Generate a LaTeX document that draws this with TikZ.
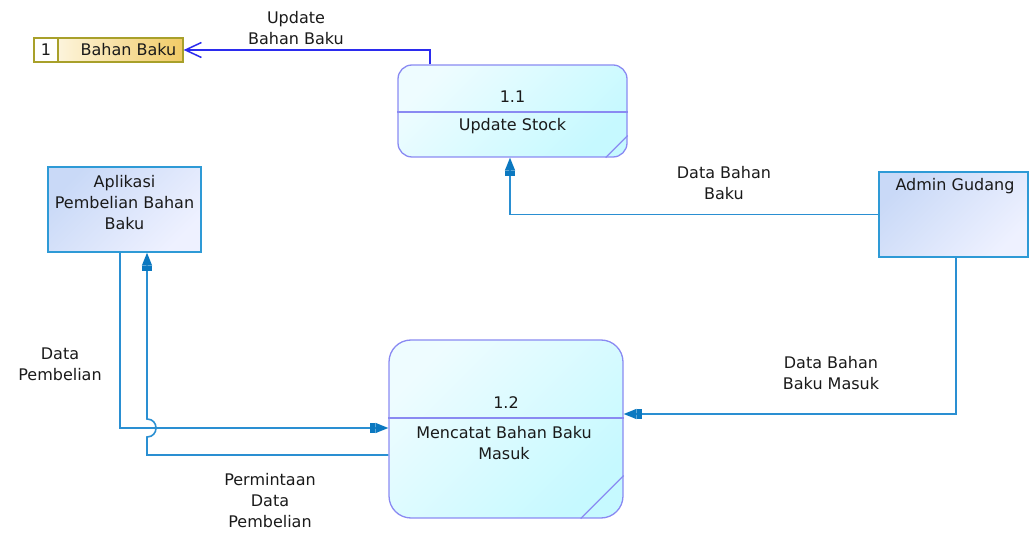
\documentclass[tikz,border=0pt]{standalone}
\usepackage{fontspec}
\setmainfont{DejaVu Sans}
\usetikzlibrary{arrows.meta}
\definecolor{flow}{HTML}{2A8FD2}
\definecolor{flowtip}{HTML}{0B78C0}
\definecolor{ublue}{HTML}{2B2BEE}
\definecolor{procline}{HTML}{8A8AF2}
\definecolor{procA}{HTML}{EEFCFF}
\definecolor{procB}{HTML}{C6F9FF}
\definecolor{entline}{HTML}{2E9AD6}
\definecolor{entA}{HTML}{C9D9F7}
\definecolor{entB}{HTML}{EEF1FF}
\definecolor{storeline}{HTML}{A8A02A}
\definecolor{storeA}{HTML}{FFFCF2}
\definecolor{storeB}{HTML}{F1CB66}
\definecolor{txtcol}{HTML}{1A1A1A}
\begin{document}
\begin{tikzpicture}[x=1pt,y=-1pt,
  font=\fontsize{16}{21}\selectfont,
  txt/.style={inner sep=0pt, align=center, text=txtcol},
  proc/.style={draw=procline, line width=1.3pt, top color=procA, bottom color=procB, shading angle=45, inner sep=0pt},
  divider/.style={draw=procline, line width=1.3pt},
  entity/.style={draw=entline, line width=1.4pt, top color=entA, bottom color=entB, shading angle=45, inner sep=0pt},
  storebox/.style={draw=storeline, line width=1.3pt, left color=storeA, right color=storeB, inner sep=0pt},
  flowline/.style={draw=flow, line width=1.6pt,
     -{Rectangle[length=5pt,width=10pt,sep=0pt,color=flowtip]Triangle[length=13pt,width=10pt,color=flowtip]}},
  updline/.style={draw=ublue, line width=1.6pt, -{Straight Barb[length=16pt,width=15pt,line width=1.5pt]}}
]
\useasboundingbox (0,0) rectangle (1029,534);

% data store
\node[storebox, minimum width=149pt, minimum height=24pt] (store) at (108.5,50) {};
\node[fill=white, draw=storeline, line width=1.3pt, inner sep=0pt, minimum width=24pt, minimum height=24pt, anchor=west] (storenum) at (store.west) {};
\node[txt] (storeid) at (storenum.center) {1};
\node[txt] (storelbl) at (128.5,50) {Bahan Baku};

% process 1.1
\node[proc, rounded corners=14pt, minimum width=229pt, minimum height=92pt] (p11) at (512.5,111) {};
\draw[divider] ([yshift=-1pt]p11.west) -- ([yshift=-1pt]p11.east);
\draw[divider] ([xshift=-22pt]p11.south east) -- ([yshift=22pt]p11.south east);
\node[txt] (p11num) at (512.5,97) {1.1};
\node[txt] (p11name) at (512.5,126) {Update Stock};

% process 1.2
\node[proc, rounded corners=22pt, minimum width=234pt, minimum height=178pt] (p12) at (506,429) {};
\draw[divider] ([yshift=11pt]p12.west) -- ([yshift=11pt]p12.east);
\draw[divider] ([xshift=-43pt]p12.south east) -- ([yshift=43pt]p12.south east);
\node[txt] (p12num) at (506,403) {1.2};
\node[txt] (p12name) at (504,443.5) {Mencatat Bahan Baku\\Masuk};

% entities
\node[entity, minimum width=153pt, minimum height=85pt] (apl) at (124.5,209.5) {};
\node[txt] (apltxt) at (124.5,203) {Aplikasi\\Pembelian Bahan\\Baku};
\node[entity, minimum width=149pt, minimum height=85pt] (adm) at (953.5,214.5) {};
\node[txt] (admtxt) at (955,186) {Admin Gudang};

% flows
\draw[updline] ([xshift=32.5pt]p11.north west) |- (store.east);
\node[txt] (l1) at (296,28) {Update\\Bahan Baku};

\draw[flowline] (adm.west) -| ([xshift=-2.5pt]p11.south);
\node[txt] (l2) at (724,183.5) {Data Bahan\\Baku};

\draw[flowline] ([xshift=2.5pt]adm.south) |- ([yshift=15pt]p12.east);
\node[txt] (l3) at (831,373) {Data Bahan\\Baku Masuk};

\draw[flowline] ([xshift=-4.5pt]apl.south) |- ([yshift=1pt]p12.west);
\node[txt] (l4) at (60,364) {Data\\Pembelian};

\coordinate (hopA) at (147,437);
\coordinate (hopB) at (147,419);
\draw[flowline] ([yshift=-26pt]p12.west) -| (hopA)
   .. controls (159,437) and (159,419) .. (hopB)
   -- ([xshift=22.5pt]apl.south);
\node[txt] (l5) at (270,501) {Permintaan\\Data\\Pembelian};
\end{tikzpicture}
\end{document}
